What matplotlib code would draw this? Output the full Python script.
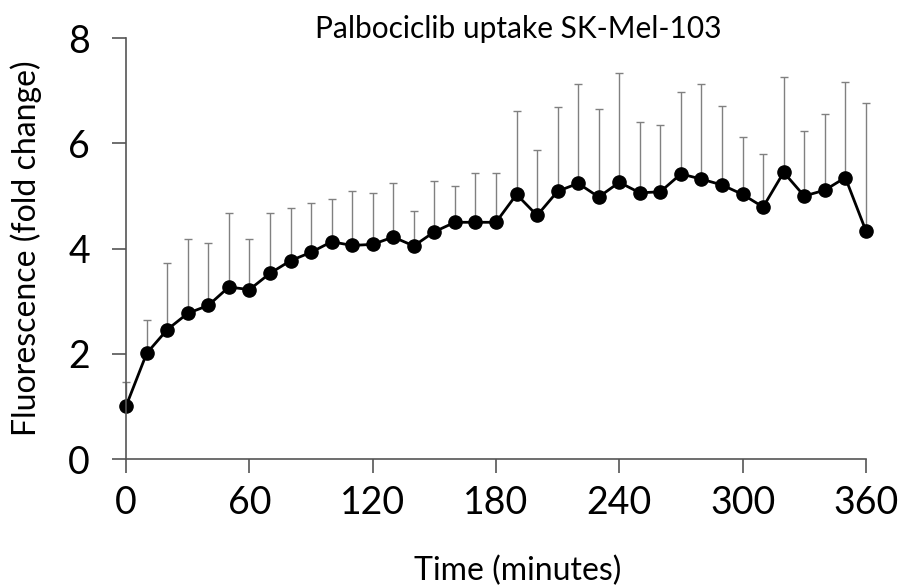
import matplotlib
matplotlib.use('Agg')
import matplotlib.pyplot as plt
import numpy as np

plt.rcParams['font.family'] = ['Lato', 'DejaVu Sans']

time_min = np.arange(0, 361, 10)
fluor = [1.01, 2.01, 2.46, 2.77, 2.92, 3.27, 3.22, 3.53, 3.77, 3.93,
         4.13, 4.06, 4.08, 4.22, 4.05, 4.32, 4.50, 4.50, 4.50, 5.03,
         4.63, 5.09, 5.24, 4.98, 5.26, 5.06, 5.08, 5.42, 5.32, 5.21,
         5.03, 4.79, 5.45, 5.00, 5.11, 5.35, 4.34]
err_top = [1.46, 2.64, 3.72, 4.19, 4.10, 4.67, 4.19, 4.67, 4.78, 4.86,
           4.95, 5.10, 5.05, 5.24, 4.71, 5.29, 5.19, 5.43, 5.43, 6.61,
           5.87, 6.69, 7.12, 6.65, 7.34, 6.40, 6.34, 6.97, 7.13, 6.71,
           6.13, 5.79, 7.27, 6.23, 6.56, 7.16, 6.76]

fluor = np.array(fluor)
upper = np.array(err_top) - fluor
lower = np.zeros_like(upper)

fig = plt.figure(figsize=(9.01, 5.87), dpi=100)
ax = fig.add_axes([0.14, 0.218, 0.821, 0.717])

eb = ax.errorbar(time_min, fluor, yerr=[lower, upper], fmt='none',
                 ecolor='#808080', elinewidth=1.0, capsize=3, capthick=1.0, zorder=1)
for art in eb.lines[1] + eb.lines[2]:
    art.set_clip_on(False)
ax.plot(time_min, fluor, color='black', lw=2, marker='o', ms=9.5, zorder=2, clip_on=False)

ax.set_xlim(0, 360)
ax.set_ylim(0, 8)
ax.set_xticks(np.arange(0, 361, 60))
ax.set_yticks(np.arange(0, 9, 2))
for s in ['top', 'right']:
    ax.spines[s].set_visible(False)
for s in ['left', 'bottom']:
    ax.spines[s].set_color('#555555')
    ax.spines[s].set_linewidth(1.2)
ax.tick_params(axis='both', labelsize=27, length=10, width=1.2, color='#555555')
ax.tick_params(axis='x', pad=9)
ax.tick_params(axis='y', pad=16)

ax.set_ylabel('Fluorescence (fold change)', fontsize=23)
ax.yaxis.set_label_coords(-(126 - 42) / 740, 0.5)
fig.text(518 / 901, 1 - 571 / 587, 'Time (minutes)', fontsize=23, ha='center', va='center')
fig.text(518 / 901, 1 - 29 / 587, 'Palbociclib uptake SK-Mel-103', fontsize=21.5, ha='center', va='center')

fig.savefig('out.png', dpi=100)
